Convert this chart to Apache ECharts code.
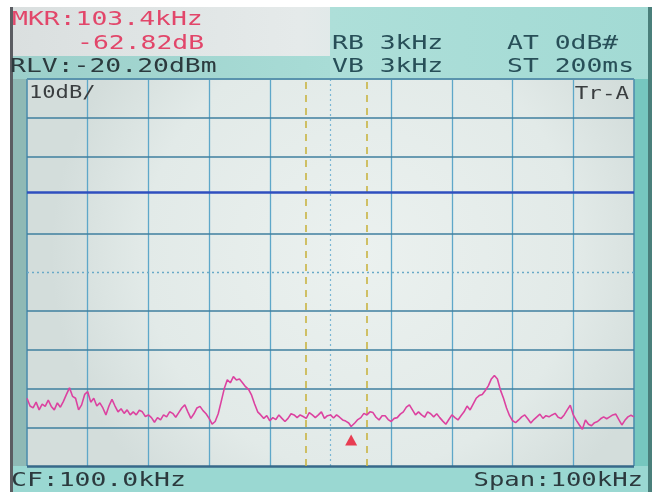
<!DOCTYPE html>
<html>
<head>
<meta charset="utf-8">
<script src="https://cdn.jsdelivr.net/npm/echarts@6/dist/echarts.min.js"></script>
<style>html,body{margin:0;padding:0;background:#fff;}#c{width:663px;height:492px;}</style>
</head>
<body>
<div id="c"></div>
<script>
// ---- data ----
var freqTicks = [50, 60, 70, 80, 90, 100, 110, 120, 130, 140, 150];   // kHz, 10 kHz/div
var levelTicks = [0, -10, -20, -30, -40, -50, -60, -70, -80, -90, -100]; // dB below RLV, 10 dB/div
var displayLine = -29.2;
var windowLines = [96, 106];
var marker = [103.4, -93.3];
var trace = [
[50,-82.5],[50.5,-84.5],[51,-85],[51.5,-83.5],[52,-85.5],[52.5,-84],[53,-84.6],[53.5,-83],[54,-84.6],[54.5,-85.5],
[55,-83.7],[55.5,-84.8],[56,-83.3],[56.5,-81.5],[57,-79.8],[57.5,-82],[58,-82.5],[58.5,-85.5],[59,-84.2],[59.5,-81.5],
[60,-80.8],[60.5,-83.5],[61,-82.5],[61.5,-84.5],[62,-83.7],[62.5,-85],[63,-86.8],[63.5,-84.5],[64,-82.8],[64.5,-84.5],
[65,-86],[65.5,-85.2],[66,-86.4],[66.5,-85.5],[67,-86.8],[67.5,-86],[68,-86.8],[68.5,-85.6],[69,-86],[69.5,-87.2],
[70,-86.8],[70.5,-87.5],[71,-88.7],[71.5,-87.5],[72,-88.1],[72.5,-86.8],[73,-87.3],[73.5,-86],[74,-86.4],[74.5,-87.4],
[75,-86.2],[75.5,-85],[76,-84.2],[76.5,-86],[77,-87.7],[77.5,-86.5],[78,-85],[78.5,-84.6],[79,-85.7],[79.5,-86.5],
[80,-87.7],[80.5,-89.2],[81,-88.5],[81.5,-86.5],[82,-83.3],[82.5,-80],[83,-77.7],[83.5,-78.5],[84,-76.9],[84.5,-77.8],
[85,-77.5],[85.5,-78.5],[86,-79.5],[86.5,-80.2],[87,-81.7],[87.5,-84],[88,-86],[88.5,-86.8],[89,-87.7],[89.5,-87],
[90,-88.3],[90.5,-87.5],[91,-88],[91.5,-86.8],[92,-87.7],[92.5,-88.5],[93,-87.7],[93.5,-86.5],[94,-86.8],[94.5,-87.5],
[95,-86.8],[95.5,-87.2],[96,-87.7],[96.5,-86.2],[97,-86.8],[97.5,-87.5],[98,-86.8],[98.5,-86],[99,-87.7],[99.5,-87],
[100,-86.8],[100.5,-87.6],[101,-86.8],[101.5,-87.4],[102,-88.1],[102.5,-88.4],[103,-88.9],[103.4,-89.8],[104,-88.9],[104.5,-88],
[105,-87.5],[105.5,-86.4],[106,-86.8],[106.5,-86],[107,-86.2],[107.5,-87.4],[108,-88.1],[108.5,-87],[109,-87],[109.5,-88],
[110,-88.5],[110.5,-87.7],[111,-87.5],[111.5,-86.6],[112,-86],[112.5,-84.8],[113,-84.2],[113.5,-85.5],[114,-86.8],[114.5,-86],
[115,-86.8],[115.5,-87.4],[116,-86],[116.5,-86.5],[117,-87.3],[117.5,-86.5],[118,-87.5],[118.5,-88.4],[119,-89.2],[119.5,-88],
[120,-86.8],[120.5,-87.5],[121,-88.1],[121.5,-87],[122,-86],[122.5,-84.5],[123,-85.5],[123.5,-84],[124,-82.5],[124.5,-81.8],
[125,-81.5],[125.5,-80.5],[126,-79.3],[126.5,-77.5],[127,-76.6],[127.5,-77.5],[128,-80.4],[128.5,-82.5],[129,-85],[129.5,-87],
[130,-88.3],[130.5,-88.8],[131,-88.1],[131.5,-87.3],[132,-86.8],[132.5,-87.8],[133,-88.9],[133.5,-88],[134,-87.3],[134.5,-86.6],
[135,-87.7],[135.5,-87],[136,-87.3],[136.5,-86.8],[137,-86.4],[137.5,-87.4],[138,-87.7],[138.5,-86.8],[139,-85.5],[139.5,-84.3],
[140,-86.8],[140.5,-88.2],[141,-89.4],[141.5,-90.5],[142,-88.1],[142.5,-89.2],[143,-89.6],[143.5,-88.8],[144,-88.5],[144.5,-87.8],
[145,-87.3],[145.5,-87.8],[146,-87.3],[146.5,-86.8],[147,-86.6],[147.5,-88],[148,-89.4],[148.5,-88.2],[149,-87.3],[149.5,-86.9],
[150,-87.3]
];
var headerRed = ["MKR:103.4kHz", "-62.82dB"];
var headerLeft = "RLV:-20.20dBm";
var headerMid = ["RB 3kHz", "VB 3kHz"];
var headerRight = ["AT 0dB#", "ST 200ms"];
var scaleLabel = "10dB/";
var traceLabel = "Tr-A";
var footerLeft = "CF:100.0kHz";
var footerRight = "Span:100kHz";

// ---- build ----
var FONT = '"DejaVu Sans Mono", monospace';
var lines = [];
freqTicks.forEach(function (f, i) {
  var style;
  if (i === 0 || i === freqTicks.length - 1) style = {color: '#4f8fae', width: 1.6, type: 'solid'};
  else if (f === 100) style = {color: '#7ab6d4', width: 1.2, type: [2, 3]};
  else style = {color: '#5ea7c9', width: 1.3, type: 'solid'};
  lines.push({xAxis: f, lineStyle: style});
});
levelTicks.forEach(function (v, i) {
  var style;
  if (v === -30) return; // hidden under display line
  if (i === 0) style = {color: '#5a93ad', width: 1.8, type: 'solid'};
  else if (i === levelTicks.length - 1) style = {color: '#37698a', width: 2.6, type: 'solid'};
  else if (v === -50) style = {color: '#6aaac8', width: 1.3, type: [2, 3]};
  else style = {color: '#3f7f9f', width: 1.7, type: 'solid'};
  lines.push({yAxis: v, lineStyle: style});
});
windowLines.forEach(function (f) {
  lines.push({xAxis: f, lineStyle: {color: '#c9b443', width: 1.6, type: [7, 6]}});
});
lines.push({yAxis: displayLine, lineStyle: {color: '#2f4fbf', width: 2.6, type: 'solid'}});

function txt(x, y, s, color, size, align, sx) {
  return {type: 'text', x: x, y: y, scaleX: sx || 1.32, z: 100,
    style: {text: s, fill: color, font: size + 'px ' + FONT, textAlign: align || 'left', textVerticalAlign: 'middle'}};
}
var RED = '#e2466a', DARK = '#2c3a3e', TEAL = '#284f58';

var chart = echarts.init(document.getElementById('c'), null, {renderer: 'canvas'});
chart.setOption({
  animation: false,
  backgroundColor: '#ffffff',
  grid: {left: 27, right: 29, top: 79, bottom: 26},
  xAxis: {type: 'value', min: 50, max: 150, interval: 10, show: false},
  yAxis: {type: 'value', min: -100, max: 0, interval: 10, show: false},
  graphic: [
    // screen backgrounds
    {type: 'rect', z: -20, shape: {x: 10, y: 7, width: 642, height: 485},
      style: {fill: {type: 'linear', x: 0, y: 0, x2: 1, y2: 0, colorStops: [
        {offset: 0, color: '#dadfdf'}, {offset: 0.45, color: '#e5eaea'}, {offset: 1, color: '#bfe4e0'}]}}},
    {type: 'rect', z: -19, shape: {x: 330, y: 7, width: 322, height: 72},
      style: {fill: {type: 'linear', x: 0, y: 0, x2: 1, y2: 0, colorStops: [
        {offset: 0, color: '#aedfd9'}, {offset: 1, color: '#a2dad4'}]}}},
    {type: 'rect', z: -19, shape: {x: 10, y: 56, width: 320, height: 23},
      style: {fill: {type: 'linear', x: 0, y: 0, x2: 1, y2: 0, colorStops: [
        {offset: 0, color: '#9ccfca'}, {offset: 1, color: '#a8dcd6'}]}}},
    {type: 'rect', z: -18, shape: {x: 27, y: 79, width: 607, height: 387},
      style: {fill: {type: 'radial', x: 0.55, y: 0.45, r: 0.8, colorStops: [
        {offset: 0, color: '#ebf1ef'}, {offset: 0.7, color: '#e2eae8'}, {offset: 1, color: '#d3dddb'}]}}},
    {type: 'rect', z: -18, shape: {x: 12, y: 79, width: 15, height: 387}, style: {fill: '#8fb9b5'}},
    {type: 'rect', z: -18, shape: {x: 634, y: 79, width: 16, height: 387}, style: {fill: '#76c7bf'}},
    {type: 'rect', z: -18, shape: {x: 10, y: 466, width: 642, height: 26}, style: {fill: '#9ad8d2'}},
    {type: 'rect', z: -17, shape: {x: 10, y: 7, width: 3, height: 485}, style: {fill: '#5b5d62'}},
    {type: 'rect', z: -17, shape: {x: 648, y: 7, width: 4, height: 485}, style: {fill: '#4a7f7b'}},
    // texts
    txt(12, 20, headerRed[0], RED, 20),
    txt(77, 44, headerRed[1], RED, 20),
    txt(10, 67, headerLeft, DARK, 20),
    txt(332, 44, headerMid[0], TEAL, 20),
    txt(332, 67, headerMid[1], TEAL, 20),
    txt(507, 44, headerRight[0], TEAL, 20),
    txt(507, 67, headerRight[1], TEAL, 20),
    txt(29, 94, scaleLabel, '#3a3e40', 17, 'left', 1.3),
    txt(629, 94, traceLabel, '#3a3e40', 18, 'right', 1.25),
    txt(11, 481, footerLeft, DARK, 20),
    txt(643, 481, footerRight, DARK, 20, 'right', 1.28)
  ],
  series: [
    {type: 'line', data: trace, showSymbol: false, symbol: 'none', z: 5,
      lineStyle: {color: '#dc42a0', width: 1.6}, silent: true,
      markLine: {silent: true, symbol: 'none', label: {show: false}, animation: false, z: 1, data: lines}},
    {type: 'scatter', data: [marker], symbol: 'triangle', symbolSize: [12, 11], z: 6,
      itemStyle: {color: '#e8122c'}, silent: true}
  ]
});
</script>
</body>
</html>
